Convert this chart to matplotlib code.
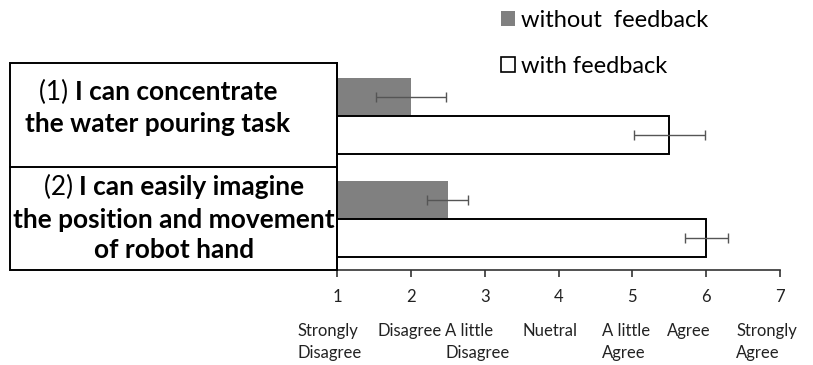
import numpy as np
import matplotlib
matplotlib.use("Agg")
import matplotlib.pyplot as plt
from matplotlib.patches import Patch, Rectangle
from matplotlib.lines import Line2D

plt.rcParams['font.family'] = ['Lato', 'DejaVu Sans']

# questionnaire items: (number, bold text lines)
item_numbers = ["(1)", "(2)"]
item_lines = [["I can concentrate", "the water pouring task"],
              ["I can easily imagine", "the position and movement", "of robot hand"]]

without_mean = [2.0, 2.5]
without_err = [0.47, 0.28]
with_mean = [5.5, 6.0]
with_err = [0.48, 0.29]

scale_ticks = [1, 2, 3, 4, 5, 6, 7]
scale_names = ["Strongly\nDisagree", "Disagree", "A little\nDisagree", "Nuetral",
               "A little\nAgree", "Agree", "Strongly\nAgree"]

W, H = 813, 365
fig = plt.figure(figsize=(W / 100, H / 100), dpi=100)
ax = fig.add_axes([337 / W, 1 - 270 / H, (780 - 337) / W, (270 - 63) / H])

y = np.arange(len(item_numbers))
h = 0.369
ax.barh(y - h / 2, [m - 1 for m in without_mean], height=h, left=1,
        color='#808080', edgecolor='none', zorder=2)
ax.barh(y + h / 2, [m - 1 for m in with_mean], height=h, left=1,
        color='white', edgecolor='black', linewidth=1.4, zorder=2)
ax.errorbar(without_mean, y - h / 2, xerr=without_err, fmt='none',
            ecolor='#555555', elinewidth=1.0, capsize=3.6, capthick=1.0, zorder=3)
ax.errorbar(with_mean, y + h / 2, xerr=with_err, fmt='none',
            ecolor='#555555', elinewidth=1.0, capsize=3.6, capthick=1.0, zorder=3)

ax.set_xlim(1, 7)
ax.set_ylim(1.495, -0.515)
ax.set_yticks([])
ax.set_xticks(scale_ticks)
ax.set_xticklabels([str(t) for t in scale_ticks], fontsize=12, color='#222222')
ax.tick_params(axis='x', direction='out', length=5, width=1.2, pad=9, color='#333333')
for s in ['top', 'right']:
    ax.spines[s].set_visible(False)
ax.spines['bottom'].set_linewidth(1.2)
ax.spines['bottom'].set_color('#333333')
ax.spines['left'].set_linewidth(1.4)

# scale descriptions below the numbers (left-aligned blocks, nudged left of tick)
name_shift = [-0.10, -0.01, -0.10, -0.11, -0.08, -0.24, -0.18]
for t, name, dx in zip(scale_ticks, scale_names, name_shift):
    ax.text(t + dx, -0.255, name, transform=ax.get_xaxis_transform(),
            ha='center', va='top', multialignment='left', fontsize=12,
            color='#222222', linespacing=1.45)

# item box to the left of the axis
ft = fig.transFigure
def fx(px):
    return px / W
def fy(py):
    return 1 - py / H

fig.add_artist(Rectangle((fx(10), fy(270)), fx(337) - fx(10), fy(63) - fy(270),
                         transform=ft, fill=False, edgecolor='black', linewidth=1.4))
fig.add_artist(Line2D([fx(10), fx(337)], [fy(167), fy(167)], transform=ft,
                      color='black', linewidth=1.4))

fig.canvas.draw()
renderer = fig.canvas.get_renderer()
fsize = 18.9
box_centers = [158, 174]
box_line_y = [[92, 124], [187, 220, 250]]
for num, lines, cx, ys in zip(item_numbers, item_lines, box_centers, box_line_y):
    for i, (line, py) in enumerate(zip(lines, ys)):
        if i == 0:
            t1 = fig.text(0, fy(py), num + " ", fontsize=fsize, va='center', ha='left')
            t2 = fig.text(0, fy(py), line, fontsize=fsize, fontweight='bold',
                          va='center', ha='left')
            w1 = t1.get_window_extent(renderer).width
            w2 = t2.get_window_extent(renderer).width
            x0 = cx - (w1 + w2) / 2
            t1.set_x(fx(x0))
            t2.set_x(fx(x0 + w1))
        else:
            fig.text(fx(cx), fy(py), line, fontsize=fsize, fontweight='bold',
                     va='center', ha='center')

handles = [Patch(facecolor='#808080', edgecolor='none'),
           Patch(facecolor='white', edgecolor='black', linewidth=1.2)]
fig.legend(handles, ["without  feedback", "with feedback"], loc='upper left',
           bbox_to_anchor=(fx(489), fy(-2)), frameon=False, fontsize=17,
           handlelength=0.6, handleheight=0.6, handletextpad=0.25,
           labelspacing=1.08, borderpad=0)

fig.savefig("out.png", dpi=100)
